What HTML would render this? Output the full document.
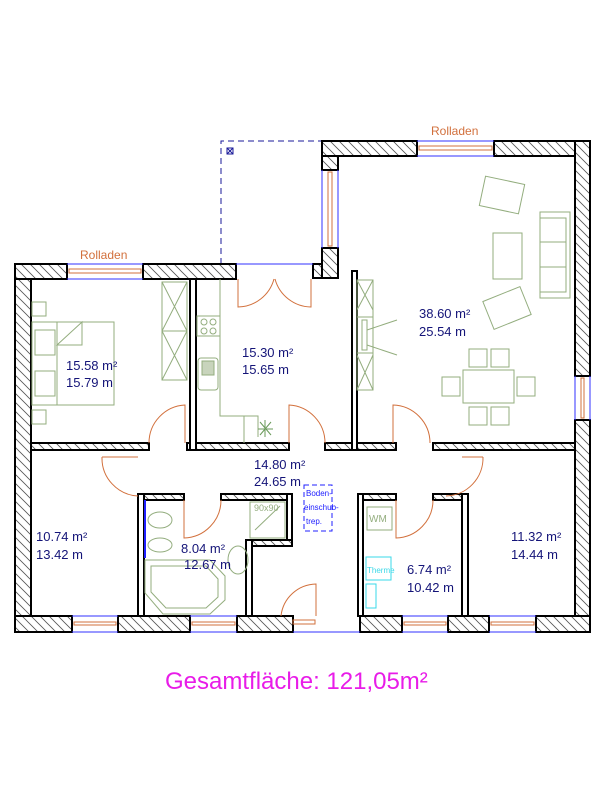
<!DOCTYPE html>
<html><head><meta charset="utf-8"><style>
html,body{margin:0;padding:0;background:#fff;width:600px;height:812px;overflow:hidden}
svg{display:block}
.t{font-family:"Liberation Sans",sans-serif;font-size:13px;fill:#141478}
.g{fill:none;stroke:#93ad7e;stroke-width:1}
.d{fill:none;stroke:#d2703c;stroke-width:1}
.w{fill:url(#h);stroke:#000;stroke-width:2}
</style></head><body>
<svg width="600" height="812" viewBox="0 0 600 812" xmlns="http://www.w3.org/2000/svg">
<defs>
<pattern id="h" patternUnits="userSpaceOnUse" width="9" height="9">
<rect width="9" height="9" fill="#fff"/>
<path d="M-1,-1 L10,10 M-10,-1 L1,10 M8,-1 L19,10" stroke="#555" stroke-width="0.8"/>
</pattern>
</defs>

<!-- dashed terrace outline -->
<path d="M221,264 L221,141 L322,141" fill="none" stroke="#1a1a9a" stroke-width="1" stroke-dasharray="6,4"/>
<rect x="227" y="148" width="6" height="6" fill="none" stroke="#1a1a9a"/>
<path d="M227,148 L233,154 M233,148 L227,154" stroke="#1a1a9a"/>

<!-- outer walls -->
<rect class="w" x="15" y="264" width="16" height="368"/>
<rect class="w" x="15" y="264" width="52" height="15"/>
<rect class="w" x="143" y="264" width="93" height="15"/>
<rect class="w" x="313" y="264" width="25" height="14"/>
<rect class="w" x="322" y="141" width="16" height="29"/>
<rect class="w" x="322" y="248" width="16" height="30"/>
<rect class="w" x="322" y="141" width="95" height="15"/>
<rect class="w" x="494" y="141" width="96" height="15"/>
<rect class="w" x="575" y="141" width="15" height="235"/>
<rect class="w" x="575" y="420" width="15" height="212"/>
<rect class="w" x="15" y="616" width="57" height="16"/>
<rect class="w" x="118" y="616" width="72" height="16"/>
<rect class="w" x="237" y="616" width="56" height="16"/>
<rect class="w" x="360" y="616" width="42" height="16"/>
<rect class="w" x="448" y="616" width="41" height="16"/>
<rect class="w" x="536" y="616" width="54" height="16"/>

<!-- windows -->
<g stroke-width="1">
<path d="M67,264 H143 M67,279 H143" stroke="#3030ff"/>
<rect x="69" y="269" width="72" height="4" class="d"/>
<path d="M236,264 H313" stroke="#3030ff"/>
<path d="M417,141 H494 M417,156 H494" stroke="#3030ff"/>
<rect x="419" y="146" width="73" height="4" class="d"/>
<path d="M322,170 V248 M338,170 V248" stroke="#3030ff"/>
<rect x="328" y="172" width="4" height="74" class="d"/>
<path d="M575,376 V420 M590,376 V420" stroke="#3030ff"/>
<rect x="581" y="378" width="3" height="40" class="d"/>
<path d="M72,616 H118 M72,632 H118 M190,616 H237 M190,632 H237 M293,632 H360 M402,616 H448 M402,632 H448 M489,616 H536 M489,632 H536" stroke="#3030ff"/>
<rect x="74" y="622" width="42" height="3" class="d"/>
<rect x="192" y="622" width="43" height="3" class="d"/>
<rect x="404" y="622" width="42" height="3" class="d"/>
<rect x="491" y="622" width="43" height="3" class="d"/>
</g>

<!-- interior walls -->
<rect class="w" x="31" y="443" width="118" height="7"/>
<rect class="w" x="187" y="443" width="102" height="7"/>
<rect class="w" x="325" y="443" width="71" height="7"/>
<rect class="w" x="433" y="443" width="142" height="7"/>
<rect x="190" y="279" width="6" height="171" fill="#fff" stroke="#000" stroke-width="2"/>
<rect x="352" y="271" width="5" height="179" fill="#fff" stroke="#000" stroke-width="2"/>
<rect class="w" x="138" y="494" width="46" height="6"/>
<rect x="138" y="494" width="6" height="122" fill="#fff" stroke="#000" stroke-width="2"/>
<rect class="w" x="221" y="494" width="71" height="6"/>
<rect x="287" y="494" width="5" height="52" fill="#fff" stroke="#000" stroke-width="2"/>
<rect class="w" x="246" y="540" width="46" height="6"/>
<rect x="246" y="540" width="6" height="76" fill="#fff" stroke="#000" stroke-width="2"/>
<rect class="w" x="358" y="494" width="38" height="6"/>
<rect x="358" y="494" width="5" height="122" fill="#fff" stroke="#000" stroke-width="2"/>
<rect class="w" x="433" y="494" width="34" height="6"/>
<rect x="462" y="494" width="6" height="122" fill="#fff" stroke="#000" stroke-width="2"/>
<rect x="144" y="500" width="2" height="58" fill="#2020ff"/>

<!-- doors -->
<g class="d">
<path d="M238,279 V307 A38,38 0 0 0 274,279"/>
<path d="M311,279 V307 A38,38 0 0 1 275,279"/>
<path d="M185,443 V405 A38,38 0 0 0 149,443"/>
<path d="M289,443 V405 A38,38 0 0 1 325,443"/>
<path d="M393,443 V405 A38,38 0 0 1 430,443"/>
<path d="M102,457 H138 M102,457 A38,38 0 0 0 138,496"/>
<path d="M483,457 H462 M483,457 A38,38 0 0 1 446,496"/>
<path d="M184,500 V538 A38,38 0 0 0 221,500"/>
<path d="M396,500 V538 A38,38 0 0 0 433,500"/>
<path d="M316,616 V584 A36,36 0 0 0 281,616"/>
<rect x="293" y="620" width="22" height="4"/>
</g>

<!-- furniture -->
<g class="g">
<rect x="32" y="322" width="82" height="83"/>
<rect x="35" y="330" width="20" height="25"/>
<rect x="35" y="371" width="20" height="25"/>
<path d="M57,322 V405 M57,345 L82,322 V345 Z"/>
<rect x="32" y="302" width="14" height="14"/>
<rect x="32" y="410" width="14" height="14"/>
<rect x="162" y="282" width="25" height="98"/>
<path d="M162,282 L187,331 L162,380 M187,282 L162,331 L187,380 M162,331 H187"/>
<rect x="197" y="316" width="23" height="20"/>
<circle cx="204" cy="322" r="3"/><circle cx="213" cy="322" r="3"/><circle cx="204" cy="331" r="3"/><circle cx="213" cy="331" r="3"/>
<rect x="198" y="358" width="20" height="32" rx="3"/>
<rect x="202" y="361" width="12" height="14" fill="#c8d4bc"/>
<path d="M220,279 V416 H258 V437 M244,416 V443"/>
<path d="M260,422 L271,435 M271,422 L260,435 M265,420 V437 M258,429 H273" stroke="#6a9a5a"/>
<rect x="357" y="280" width="16" height="110"/>
<path d="M357,280 L373,310 M373,280 L357,310 M357,355 L373,390 M373,355 L357,390 M357,317 H373 M357,353 H373"/>
<rect x="362" y="320" width="5" height="30"/>
<path d="M367,330 L397,320 M367,345 L397,355"/>
<rect x="482" y="180" width="40" height="30" transform="rotate(12 502 195)"/>
<rect x="540" y="212" width="30" height="86"/>
<rect x="540" y="218" width="26" height="74"/>
<path d="M540,242 H566 M540,267 H566"/>
<rect x="493" y="233" width="29" height="46"/>
<rect x="487" y="293" width="40" height="30" transform="rotate(-22 507 308)"/>
<rect x="463" y="370" width="51" height="33"/>
<rect x="469" y="349" width="18" height="18"/><rect x="491" y="349" width="18" height="18"/>
<rect x="469" y="407" width="18" height="18"/><rect x="491" y="407" width="18" height="18"/>
<rect x="442" y="377" width="18" height="19"/><rect x="517" y="377" width="18" height="19"/>
<rect x="250" y="502" width="35" height="36"/>
<path d="M255,530 L280,506"/>
<ellipse cx="160" cy="520" rx="12" ry="8"/>
<ellipse cx="160" cy="545" rx="12" ry="7"/>
<ellipse cx="238" cy="560" rx="10" ry="14"/>
<path d="M145,560 H210 L225,576 V600 L210,614 H163 L145,593 Z"/>
<path d="M151,566 H206 L218,579 V597 L206,608 H166 L151,592 Z"/>
<rect x="367" y="507" width="25" height="23"/>
</g>
<text x="369" y="522" font-family="Liberation Sans" font-size="10" fill="#93ad7e">WM</text>
<text x="254" y="511" font-family="Liberation Sans" font-size="9" fill="#93ad7e">90x90</text>
<rect x="366" y="557" width="25" height="23" fill="none" stroke="#3ad8e8"/>
<text x="367" y="573" font-family="Liberation Sans" font-size="8" fill="#3ad8e8">Therme</text>
<rect x="366" y="584" width="10" height="24" fill="none" stroke="#3ad8e8"/>

<!-- attic stair -->
<rect x="304" y="485" width="28" height="46" fill="none" stroke="#2020ff" stroke-dasharray="5,3"/>
<text font-family="Liberation Sans" font-size="8" fill="#2020ff"><tspan x="306" y="496">Boden-</tspan><tspan x="304" y="510">einschub-</tspan><tspan x="306" y="524">trep.</tspan></text>

<!-- labels -->
<text x="80" y="259" font-family="Liberation Sans" font-size="12" fill="#d2703c">Rolladen</text>
<text x="431" y="135" font-family="Liberation Sans" font-size="12" fill="#d2703c">Rolladen</text>
<g class="t">
<text x="66" y="370">15.58 m²</text><text x="66" y="387">15.79 m</text>
<text x="242" y="357">15.30 m²</text><text x="242" y="374">15.65 m</text>
<text x="419" y="318">38.60 m²</text><text x="419" y="336">25.54 m</text>
<text x="254" y="469">14.80 m²</text><text x="254" y="486">24.65 m</text>
<text x="36" y="541">10.74 m²</text><text x="36" y="559">13.42 m</text>
<text x="181" y="553">8.04 m²</text><text x="184" y="569">12.67 m</text>
<text x="407" y="574">6.74 m²</text><text x="407" y="592">10.42 m</text>
<text x="511" y="541">11.32 m²</text><text x="511" y="559">14.44 m</text>
</g>
<text x="165" y="689" font-family="Liberation Sans" font-size="24" fill="#e81ce8">Gesamtfläche: 121,05m²</text>
</svg>
</body></html>
